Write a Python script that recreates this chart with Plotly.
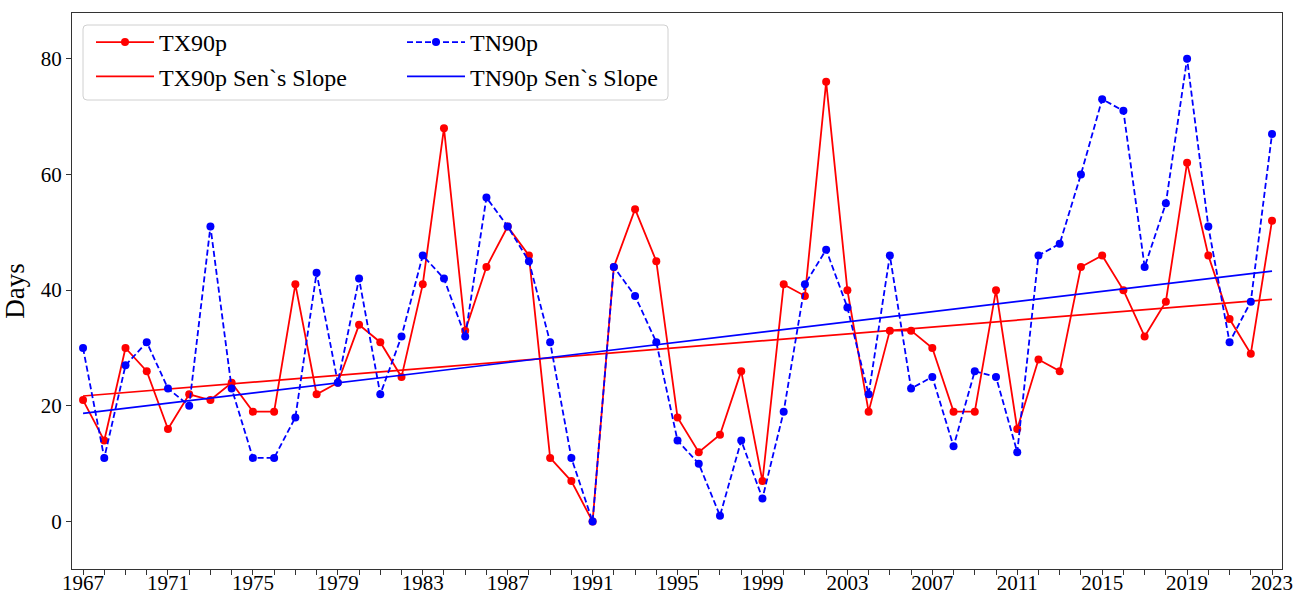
import plotly.graph_objects as go

years = list(range(1967, 2024))
tx90p = [21, 14, 30, 26, 16, 22, 21, 24, 19, 19, 41, 22, 24, 34, 31, 25, 41, 68, 33, 44,
         51, 46, 11, 7, 0, 44, 54, 45, 18, 12, 15, 26, 7, 41, 39, 76, 40, 19, 33, 33,
         30, 19, 19, 40, 16, 28, 26, 44, 46, 40, 32, 38, 62, 46, 35, 29, 52]
tn90p = [30, 11, 27, 31, 23, 20, 51, 23, 11, 11, 18, 43, 24, 42, 22, 32, 46, 42, 32, 56,
         51, 45, 31, 11, 0, 44, 39, 31, 14, 10, 1, 14, 4, 19, 41, 47, 37, 22, 46, 23,
         25, 13, 26, 25, 12, 46, 48, 60, 73, 71, 44, 55, 80, 51, 31, 38, 67]
trend_years = [1967, 2023]
tx_trend = [21.7, 38.4]
tn_trend = [18.7, 43.3]

FONT = "Liberation Serif"
RED = "#ff0000"
BLUE = "#0000ff"

fig = go.Figure()
fig.add_trace(go.Scatter(x=years, y=tx90p, mode="lines+markers", name="TX90p",
                         line=dict(color=RED, width=1.8), marker=dict(size=8, color=RED),
                         legend="legend", legendgroup="a"))
fig.add_trace(go.Scatter(x=trend_years, y=tx_trend, mode="lines", name="TX90p Sen`s Slope",
                         line=dict(color=RED, width=1.7), legend="legend", legendgroup="b"))
fig.add_trace(go.Scatter(x=years, y=tn90p, mode="lines+markers", name="TN90p",
                         line=dict(color=BLUE, width=1.8, dash="6px,3px"),
                         marker=dict(size=8, color=BLUE), legend="legend2", legendgroup="c"))
fig.add_trace(go.Scatter(x=trend_years, y=tn_trend, mode="lines", name="TN90p Sen`s Slope",
                         line=dict(color=BLUE, width=1.7), legend="legend2", legendgroup="d"))

L, R, T, B = 72, 14, 13, 27
W, H = 1296, 596
pw, ph = W - L - R, H - T - B

def px(x):
    return (x - L) / pw

def py(y):
    return 1 - (y - T) / ph

# rounded legend frame
x0, x1, y0, y1 = px(83), px(668), py(100), py(25)
rx, ry = 4 / pw, 4 / ph
path = (f"M {x0+rx},{y0} L {x1-rx},{y0} Q {x1},{y0} {x1},{y0+ry} "
        f"L {x1},{y1-ry} Q {x1},{y1} {x1-rx},{y1} L {x0+rx},{y1} "
        f"Q {x0},{y1} {x0},{y1-ry} L {x0},{y0+ry} Q {x0},{y0} {x0+rx},{y0} Z")
fig.add_shape(type="path", path=path, xref="paper", yref="paper",
              line=dict(color="#d0d0d0", width=1), fillcolor="rgba(255,255,255,0.8)",
              layer="above")

legend_common = dict(font=dict(family=FONT, size=24, color="black"),
                     bgcolor="rgba(0,0,0,0)", borderwidth=0, itemwidth=58,
                     tracegroupgap=0, yanchor="top", xanchor="left")

fig.update_layout(
    width=W, height=H,
    margin=dict(l=L, r=R, t=T, b=B, autoexpand=False),
    plot_bgcolor="white", paper_bgcolor="white",
    font=dict(family=FONT, color="black"),
    legend=dict(x=px(91), y=py(20), **legend_common),
    legend2=dict(x=px(402), y=py(20), **legend_common),
    xaxis=dict(range=[1966.48, 2023.47], tick0=1967, dtick=4, ticks="outside",
               ticklen=5, tickcolor="#333", showline=True, linecolor="#333", linewidth=1.2,
               mirror=True, showgrid=False, zeroline=False, automargin=False,
               tickfont=dict(family=FONT, size=21, color="black"),
               minor=dict(dtick=1, tick0=1967, ticks="outside", ticklen=5, tickcolor="#333",
                          showgrid=False)),
    yaxis=dict(range=[-8.2, 87.9], tick0=0, dtick=20, ticks="outside", ticklen=5,
               tickcolor="#333", showline=True, linecolor="#333", linewidth=1.2,
               mirror=True, showgrid=False, zeroline=False, automargin=False,
               tickfont=dict(family=FONT, size=21, color="black"),
               title=dict(text="Days", font=dict(family=FONT, size=27, color="black"),
                          standoff=8)),
)

try:
    fig.update_xaxes(ticklabelstandoff=-10)
except ValueError:
    fig.update_layout(margin=dict(b=31))
    fig.update_xaxes(ticklen=4, minor=dict(ticklen=4), tickfont=dict(size=20))

fig.write_html("out.html")
